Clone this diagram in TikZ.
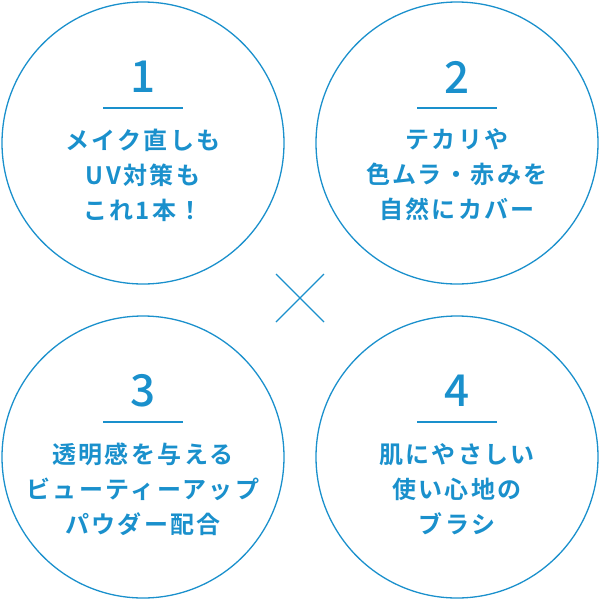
\documentclass[tikz,border=0pt]{standalone}
\usepackage{fontspec}
\setmainfont{Noto Sans CJK JP}
\newfontfamily\jpb[LetterSpace=10]{Noto Sans CJK JP Bold}
\newfontfamily\jpm{Noto Sans CJK JP Medium}
\definecolor{cb}{HTML}{1A90CC}
\begin{document}
\begin{tikzpicture}[x=1pt,y=-1pt,
  ring/.style={draw=cb,line width=1.3pt},
  num/.style={text=cb,font=\jpm\fontsize{44}{44}\selectfont},
  lbl/.style={text=cb,align=center,font=\jpb\fontsize{24}{35}\selectfont},
  bar/.style={draw=cb,line width=1.2pt}]
\useasboundingbox (0,0) rectangle (600,600);
\foreach \n/\cx/\cy in {1/143/143,2/457/143,3/143/457,4/457/457}{
  \draw[ring] (\cx,\cy) circle (141);
  \node[num] (n\n) at (\cx,\cy-66) {\n};
  \draw[bar] (\cx-40,\cy-35) -- (\cx+40,\cy-35);
}
\node[lbl] (t1) at (143,175) {メイク直しも\\UV対策も\\これ1本！};
\node[lbl] (t2) at (457,175) {テカリや\\色ムラ・赤みを\\自然にカバー};
\node[lbl] (t3) at (143,489) {透明感を与える\\ビューティーアップ\\パウダー配合};
\node[lbl] (t4) at (457,489) {肌にやさしい\\使い心地の\\ブラシ};
\coordinate (a) at (276,274); \coordinate (b) at (324,322);
\coordinate (c) at (324,274); \coordinate (d) at (276,322);
\draw[cb,line width=1.2pt] (a) -- (b) (c) -- (d);
\end{tikzpicture}
\end{document}
